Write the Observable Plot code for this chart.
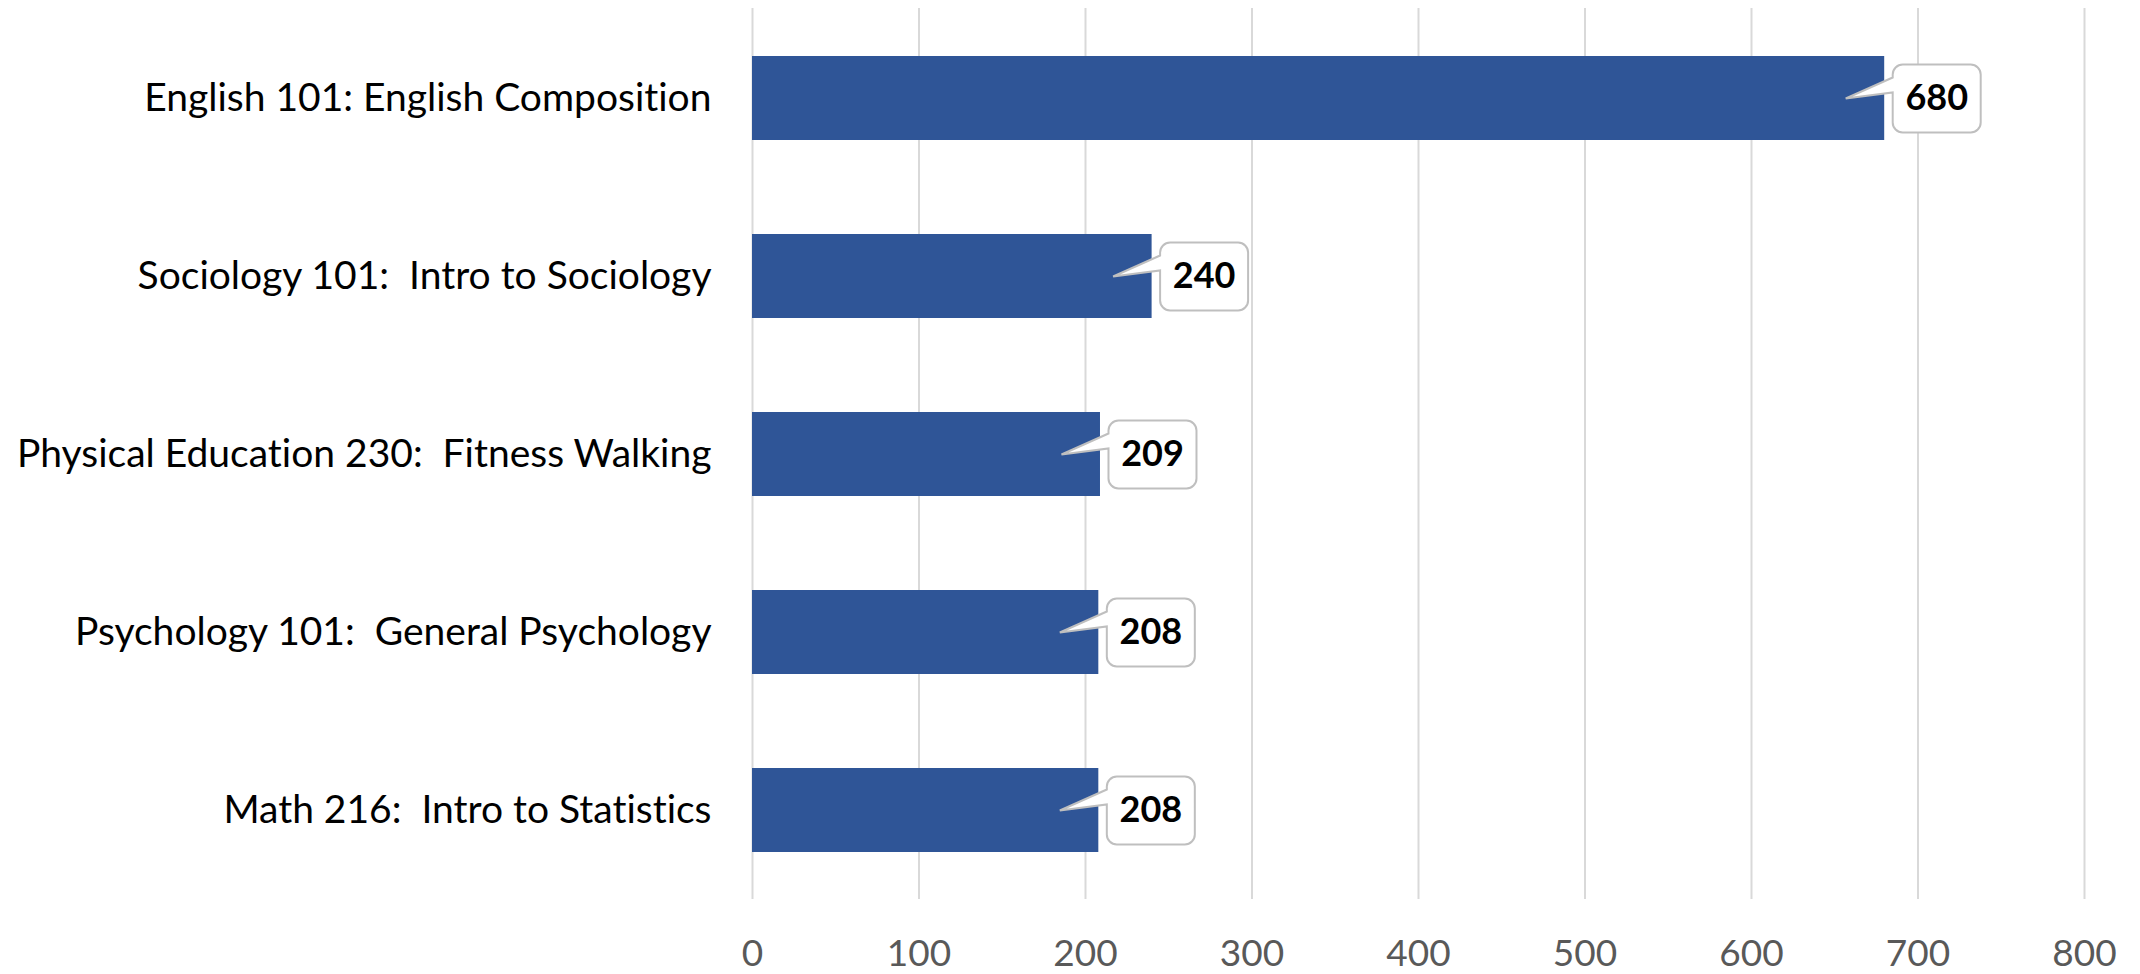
<!DOCTYPE html>
<html>
<head>
<meta charset="utf-8">
<script src="https://cdn.jsdelivr.net/npm/d3@7"></script>
<script src="https://cdn.jsdelivr.net/npm/@observablehq/plot@0.6"></script>
<style>
  html, body { margin: 0; padding: 0; background: #fff; overflow: hidden; }
  svg text { white-space: pre; font-variant-ligatures: none; font-feature-settings: "liga" 0, "dlig" 0; }
</style>
</head>
<body>
<div id="chart"></div>
<script>
const courses = [
  "English 101: English Composition",
  "Sociology 101:  Intro to Sociology",
  "Physical Education 230:  Fitness Walking",
  "Psychology 101:  General Psychology",
  "Math 216:  Intro to Statistics"
];
const enrollments = [680, 240, 209, 208, 208];
const xTicks = [0, 100, 200, 300, 400, 500, 600, 700, 800];

const data = courses.map((c, i) => ({course: c, value: enrollments[i]}));

// callout balloon shape, drawn relative to the bar end
const callout = {
  draw(ctx) {
    const L = 8, R = 96, T = -34, B = 34, r = 10, tx = -39, ty = 0, a1 = -21, a2 = -6;
    ctx.moveTo(tx, ty);
    ctx.lineTo(L, a1);
    ctx.lineTo(L, T + r);
    ctx.arcTo(L, T, L + r, T, r);
    ctx.lineTo(R - r, T);
    ctx.arcTo(R, T, R, T + r, r);
    ctx.lineTo(R, B - r);
    ctx.arcTo(R, B, R - r, B, r);
    ctx.lineTo(L + r, B);
    ctx.arcTo(L, B, L, B - r, r);
    ctx.lineTo(L, a2);
    ctx.closePath();
  }
};

const chart = Plot.plot({
  width: 2140,
  height: 974,
  marginLeft: 752,
  marginRight: 56,
  marginTop: 8,
  marginBottom: 75,
  style: {fontFamily: "Lato", background: "#fff"},
  x: {domain: [0, 800]},
  y: {domain: courses, paddingInner: 0.53, paddingOuter: 0.265},
  marks: [
    Plot.ruleX(xTicks, {stroke: "#d9d9d9", strokeWidth: 2}),
    Plot.barX(data, {x: "value", y: "course", fill: "#2F5597"}),
    Plot.dot(data, {x: "value", y: "course", symbol: callout, r: 10, fill: "white", stroke: "#bfbfbf", strokeWidth: 2}),
    Plot.text(data, {x: "value", y: "course", text: d => String(d.value), dx: 52, fontWeight: "bold", fontSize: 36, fill: "black"}),
    Plot.axisX({ticks: xTicks, tickSize: 0, tickPadding: 40, fontSize: 37, fill: "#595959", label: null}),
    Plot.axisY({tickSize: 0, tickPadding: 41, fontSize: 39, fill: "black", label: null})
  ]
});
document.getElementById("chart").appendChild(chart);
</script>
</body>
</html>
